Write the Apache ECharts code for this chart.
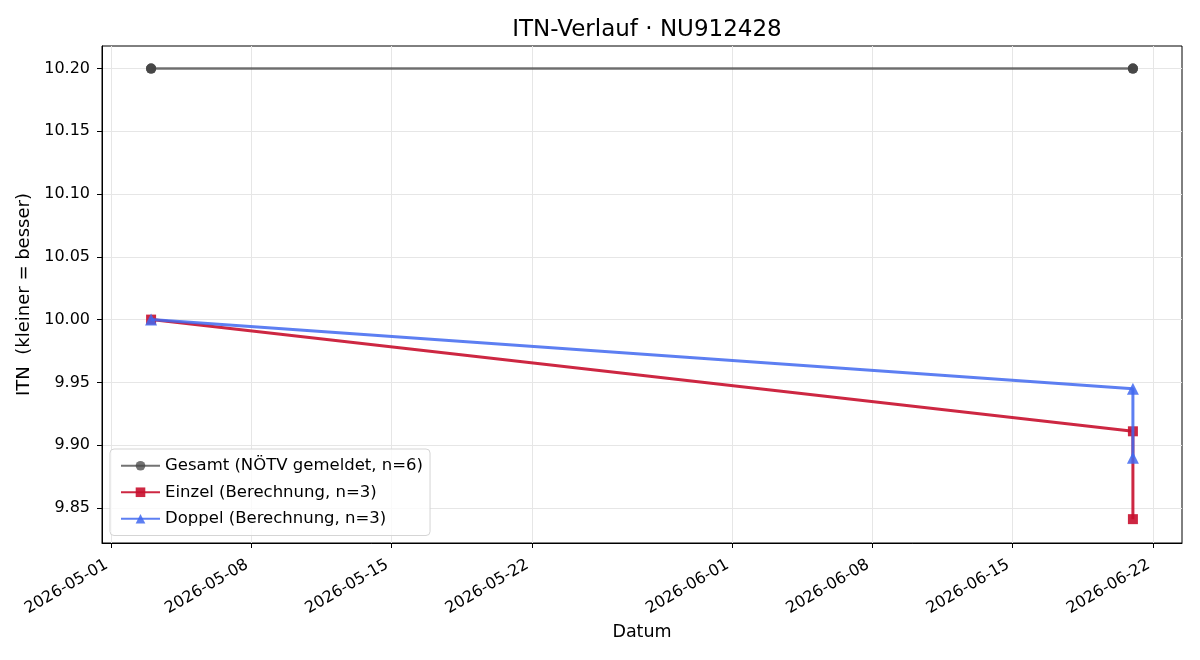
<!DOCTYPE html>
<html>
<head>
<meta charset="utf-8">
<script src="https://cdn.jsdelivr.net/npm/echarts@6/dist/echarts.min.js"></script>
<style>
  html, body { margin: 0; padding: 0; background: #fff; }
  #chart { width: 1200px; height: 660px; }
</style>
</head>
<body>
<div id="chart"></div>
<script>
// daten
const gesamtDates = ['2026-05-03', '2026-05-03', '2026-05-03', '2026-06-21', '2026-06-21', '2026-06-21'];
const gesamtITN = [10.2, 10.2, 10.2, 10.2, 10.2, 10.2];
const einzelDates = ['2026-05-03', '2026-06-21', '2026-06-21'];
const einzelITN = [10.0, 9.911, 9.841];
const doppelDates = ['2026-05-03', '2026-06-21', '2026-06-21'];
const doppelITN = [10.0, 9.945, 9.890];

const xTicks = ['2026-05-01', '2026-05-08', '2026-05-15', '2026-05-22', '2026-06-01', '2026-06-08', '2026-06-15', '2026-06-22'];
const yTicks = [9.85, 9.90, 9.95, 10.00, 10.05, 10.10, 10.15, 10.20];

const DAY = 86400000;
const ts = d => Date.parse(d);
const pairs = (dates, vals) => dates.map((d, i) => [ts(d), vals[i]]);

const xMin = ts('2026-05-03') - 2.45 * DAY;
const xMax = ts('2026-06-21') + 2.45 * DAY;

const pad = n => (n < 10 ? '0' : '') + n;
const fmtDate = v => {
  const d = new Date(v);
  return d.getUTCFullYear() + '-' + pad(d.getUTCMonth() + 1) + '-' + pad(d.getUTCDate());
};

const font = 'DejaVu Sans';
const chart = echarts.init(document.getElementById('chart'));

const option = {
  animation: false,
  backgroundColor: '#fff',
  textStyle: { fontFamily: font },
  title: {
    text: 'ITN-Verlauf · NU912428',
    left: 642,
    textAlign: 'center',
    top: 14,
    textStyle: { fontFamily: font, fontSize: 23, fontWeight: 'normal', color: '#000' }
  },
  grid: {
    left: 102, right: 18, top: 46, bottom: 117,
    show: true, borderColor: '#000', borderWidth: 1
  },
  legend: {
    orient: 'vertical',
    left: 110, top: 449,
    padding: [7, 7, 7, 10],
    itemGap: 7,
    itemWidth: 39,
    itemHeight: 12,
    backgroundColor: 'rgba(255,255,255,0.8)',
    borderColor: '#d5d5d5',
    borderWidth: 1,
    borderRadius: 4,
    textStyle: { fontFamily: font, fontSize: 16.5, color: '#000', lineHeight: 19.5 },
    data: ['Gesamt (NÖTV gemeldet, n=6)', 'Einzel (Berechnung, n=3)', 'Doppel (Berechnung, n=3)']
  },
  xAxis: {
    type: 'value',
    min: xMin,
    max: xMax,
    name: 'Datum',
    nameLocation: 'middle',
    nameGap: 80,
    nameTextStyle: { fontFamily: font, fontSize: 17.5, color: '#000' },
    axisLine: { show: true, lineStyle: { color: '#000', width: 1 } },
    axisTick: { show: true, inside: false, length: 5, lineStyle: { color: '#000' }, customValues: xTicks.map(ts) },
    axisLabel: {
      customValues: xTicks.map(ts),
      rotate: 30,
      margin: 18,
      padding: [0, 5, 0, 0],
      fontFamily: font, fontSize: 16, color: '#000',
      formatter: v => fmtDate(v)
    },
    splitLine: { show: true, lineStyle: { color: '#e6e6e6', width: 1 } }
  },
  yAxis: {
    type: 'value',
    min: 9.822,
    max: 10.218,
    name: 'ITN  (kleiner = besser)',
    nameLocation: 'middle',
    nameGap: 66,
    nameTextStyle: { fontFamily: font, fontSize: 18, color: '#000' },
    axisLine: { show: true, lineStyle: { color: '#000', width: 1 } },
    axisTick: { show: true, inside: false, length: 5, lineStyle: { color: '#000' }, customValues: yTicks },
    axisLabel: {
      customValues: yTicks,
      margin: 12,
      fontFamily: font, fontSize: 16, color: '#000',
      formatter: v => v.toFixed(2)
    },
    splitLine: { show: true, lineStyle: { color: '#e6e6e6', width: 1 } }
  },
  series: [
    {
      name: 'Gesamt (NÖTV gemeldet, n=6)',
      type: 'line',
      data: pairs(gesamtDates, gesamtITN),
      symbol: 'circle',
      symbolSize: 10,
      color: 'rgba(68,68,68,0.75)',
      lineStyle: { width: 2.5, color: 'rgba(68,68,68,0.75)' },
      itemStyle: { color: 'rgba(68,68,68,0.75)' },
      z: 2
    },
    {
      name: 'Einzel (Berechnung, n=3)',
      type: 'line',
      data: pairs(einzelDates, einzelITN),
      symbol: 'rect',
      symbolSize: 10,
      color: 'rgba(200,16,46,0.9)',
      lineStyle: { width: 3, color: 'rgba(200,16,46,0.9)' },
      itemStyle: { color: 'rgba(200,16,46,0.9)' },
      z: 3
    },
    {
      name: 'Doppel (Berechnung, n=3)',
      type: 'line',
      data: pairs(doppelDates, doppelITN),
      symbol: 'triangle',
      symbolSize: 12,
      color: 'rgba(65,105,240,0.85)',
      lineStyle: { width: 3, color: 'rgba(65,105,240,0.85)' },
      itemStyle: { color: 'rgba(65,105,240,0.85)' },
      z: 4
    }
  ]
};

chart.setOption(option);
</script>
</body>
</html>
